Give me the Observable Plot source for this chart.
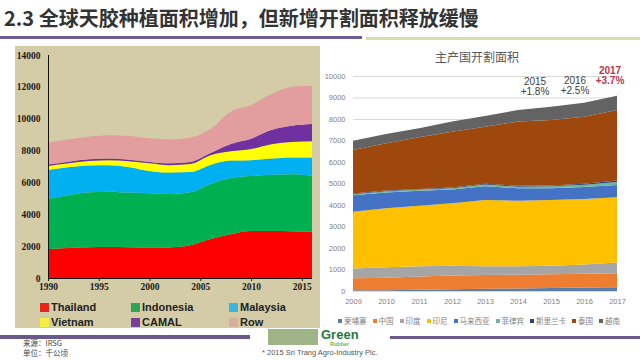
<!DOCTYPE html>
<html><head><meta charset="utf-8">
<script src="https://cdn.jsdelivr.net/npm/d3@7"></script>
<script src="https://cdn.jsdelivr.net/npm/@observablehq/plot@0.6"></script>
<style>
body{margin:0;background:#fff;}
#root{position:relative;width:640px;height:360px;overflow:hidden;background:#fff;font-family:"Liberation Sans",Arial,sans-serif;}
.abs{position:absolute;}
.lg{position:absolute;font:bold 11px "Liberation Sans",Arial,sans-serif;color:#222;display:flex;align-items:center;white-space:nowrap;}
.lg i{display:inline-block;width:9px;height:9px;margin-right:2px;}
#rlegend{position:absolute;left:338px;top:315px;width:282px;display:flex;justify-content:space-between;font:7.5px "Noto Sans CJK SC",sans-serif;color:#7f7f7f;}
#rlegend span{display:flex;align-items:center;white-space:nowrap;}
#rlegend i{display:inline-block;width:4px;height:4px;margin-right:2px;}
.anno{position:absolute;width:44px;text-align:center;font:10px/10px "Liberation Sans",Arial,sans-serif;color:#404040;}
</style></head>
<body><div id="root">
<div class="abs" style="left:4px;top:8px;font:bold 20px/20px 'Noto Sans CJK SC',sans-serif;color:#333;white-space:nowrap;">2.3 全球天胶种植面积增加，但新增开割面积释放缓慢</div>
<div class="abs" style="left:0;top:36px;width:362px;height:3px;background:#6e5b91;"></div>
<div class="abs" style="left:366px;top:37px;width:274px;height:3px;background:#d3dfa6;"></div>
<div class="abs" style="left:15px;top:46px;width:305px;height:282px;background:#d3cca6;"></div>
<div id="left" class="abs" style="left:15px;top:46px;"></div>
<div id="llegend"></div>
<div class="abs" style="left:417px;top:50px;width:120px;text-align:center;font:12px/14px 'Noto Sans CJK SC',sans-serif;color:#595959;">主产国开割面积</div>
<div id="right" class="abs" style="left:322px;top:66px;"></div>
<div id="annos"></div>
<div id="rlegend"></div>
<div class="abs" style="left:0;top:335px;width:250px;height:4px;background:#6a5a8c;"></div>
<div class="abs" style="left:390px;top:336px;width:250px;height:3px;background:#6a5a8c;"></div>
<div class="abs" style="left:23px;top:338px;font:7.5px/10px 'Noto Sans CJK SC',sans-serif;color:#444;">来源：IRSG<br>单位：千公顷</div>
<div class="abs" style="left:268px;top:329px;width:50px;height:16px;background:#9fb487;"></div>
<div class="abs" style="left:321px;top:329px;font:bold 13px/12px 'Liberation Sans',Arial,sans-serif;color:#1f7a3c;">Green</div>
<div class="abs" style="left:330px;top:341px;font:bold 5.5px/6px 'Liberation Sans',Arial,sans-serif;color:#7ab34a;">Rubber</div>
<div class="abs" style="left:262px;top:348px;font:7.5px/9px 'Liberation Sans',Arial,sans-serif;color:#555;white-space:nowrap;">* 2015 Sri Trang Agro-Industry Plc.</div>
</div>
<script>
// ---------- Left chart data (thousand ha) ----------
const leftYears = [1990,1992,1994,1996,1998,2000,2002,2004,2006,2008,2010,2012,2014,2016];
const thailand  = [1820,1880,1930,1950,1930,1900,1920,2050,2450,2750,2950,2950,2930,2900];
const indonesia = [3140,3320,3450,3470,3430,3420,3360,3330,3450,3530,3450,3530,3580,3520];
const malaysia  = [1820,1750,1680,1660,1600,1400,1340,1270,1200,1090,1000,1020,1060,1150];
const vietnam   = [250,250,290,320,370,480,460,500,600,580,700,900,970,1010];
const camal     = [90,100,100,100,90,90,120,140,150,470,650,890,1020,1090];
const row       = [1380,1400,1420,1460,1500,1480,1500,1510,1500,2020,2110,2260,2450,2400];
const leftSeries = ["Thailand","Indonesia","Malaysia","Vietnam","CAMAL","Row"];
const leftColors = ["#ff0000","#00b050","#00b0f0","#ffff00","#7030a0","#e29e9e"];
const leftLegendColors = ["#e8251b","#2fa55a","#3cb4e0","#f4f040","#7a3f98","#d8ae9c"];
const leftXTicks = [1990,1995,2000,2005,2010,2015];
const leftYTicks = [0,2000,4000,6000,8000,10000,12000,14000];

// ---------- Right chart data ----------
const rightYears = [2009,2010,2011,2012,2013,2014,2015,2016,2017];
const cambodia    = [30,40,60,80,100,120,140,160,180];
const china       = [560,580,620,640,640,640,640,640,650];
const india       = [460,480,470,450,410,390,400,430,490];
const indonesiaR  = [2640,2750,2820,2910,3080,3050,3050,3050,3040];
const malaysiaR   = [760,730,690,640,640,580,550,560,570];
const philippines = [50,60,60,60,80,70,90,100,140];
const srilanka    = [30,30,30,30,40,40,40,50,70];
const thailandR   = [2030,2200,2400,2600,2650,2990,3040,3120,3280];
const vietnamR    = [430,430,420,470,500,540,620,650,660];
const rightSeries = ["柬埔寨","中国","印度","印尼","马来西亚","菲律宾","斯里兰卡","泰国","越南"];
const rightColors = ["#5a7ca8","#ed7d31","#a5a5a5","#ffc000","#4472c4","#6fb49c","#264478","#9e480e","#636363"];
const rightYTicks = [0,1000,2000,3000,4000,5000,6000,7000,8000,9000,10000];
const annoYears = ["2015","2016","2017"];
const annoGrowth = ["+1.8%","+2.5%","+3.7%"];

const leftVals = [thailand,indonesia,malaysia,vietnam,camal,row];
const leftData = [];
leftSeries.forEach((s,i)=>leftYears.forEach((y,j)=>leftData.push({series:s,year:y,value:leftVals[i][j]})));

const left = Plot.plot({
  width:305, height:250, marginLeft:33, marginTop:9, marginBottom:18, marginRight:8,
  style:{background:"transparent", fontFamily:"'Liberation Serif',serif", fontSize:"9.5px", fontWeight:"bold", color:"#1a1a1a"},
  x:{domain:[1990,2016], ticks:leftXTicks, tickFormat:"d", label:null, tickSize:3, tickPadding:2},
  y:{domain:[0,14000], ticks:leftYTicks, tickFormat:"d", label:null, tickSize:0, tickPadding:8},
  color:{domain:leftSeries, range:leftColors},
  marks:[
    Plot.areaY(leftData,{x:"year", y:"value", fill:"series", order:leftSeries, curve:"monotone-x"}),
    Plot.ruleY([0],{stroke:"#111"}),
    Plot.ruleX([1990],{stroke:"#111"})
  ]
});
document.getElementById("left").appendChild(left);

// left legend
const lpos = [[40,301],[131,301],[229,301],[40,316],[131,316],[229,316]];
const ll = document.getElementById("llegend");
leftSeries.forEach((s,i)=>{
  const d=document.createElement("div"); d.className="lg";
  d.style.left=lpos[i][0]+"px"; d.style.top=lpos[i][1]+"px";
  d.innerHTML=`<i style="background:${leftLegendColors[i]}"></i>${s}`;
  ll.appendChild(d);
});

const rightVals = [cambodia,china,india,indonesiaR,malaysiaR,philippines,srilanka,thailandR,vietnamR];
const rightData = [];
rightSeries.forEach((s,i)=>rightYears.forEach((y,j)=>rightData.push({series:s,year:y,value:rightVals[i][j]})));

const right = Plot.plot({
  width:310, height:244, marginLeft:31, marginRight:15, marginTop:10, marginBottom:19,
  style:{background:"transparent", fontFamily:"'Liberation Sans',Arial,sans-serif", fontSize:"7.5px", color:"#7f7f7f"},
  x:{domain:[2009,2017], ticks:rightYears, tickFormat:"d", label:null, tickSize:0, tickPadding:7},
  y:{domain:[0,10000], ticks:rightYTicks, tickFormat:"d", label:null, tickSize:0, tickPadding:8},
  color:{domain:rightSeries, range:rightColors},
  marks:[
    Plot.gridY(rightYTicks,{stroke:"#d9d9d9", strokeOpacity:1}),
    Plot.areaY(rightData,{x:"year", y:"value", fill:"series", order:rightSeries}),
    Plot.ruleY([0],{stroke:"#d9d9d9"})
  ]
});
document.getElementById("right").appendChild(right);

// annotations
const apos = [[513,77],[553,76],[588,66]];
const an = document.getElementById("annos");
annoYears.forEach((y,i)=>{
  const d=document.createElement("div"); d.className="anno";
  d.style.left=apos[i][0]+"px"; d.style.top=apos[i][1]+"px";
  if(i===2){ d.style.color="#c0344f"; d.style.fontWeight="bold"; }
  d.innerHTML=`${y}<br>${annoGrowth[i]}`;
  an.appendChild(d);
});

// right legend
const rl = document.getElementById("rlegend");
rightSeries.forEach((s,i)=>{
  const d=document.createElement("span");
  d.innerHTML=`<i style="background:${rightColors[i]}"></i>${s}`;
  rl.appendChild(d);
});
</script>
</body></html>
